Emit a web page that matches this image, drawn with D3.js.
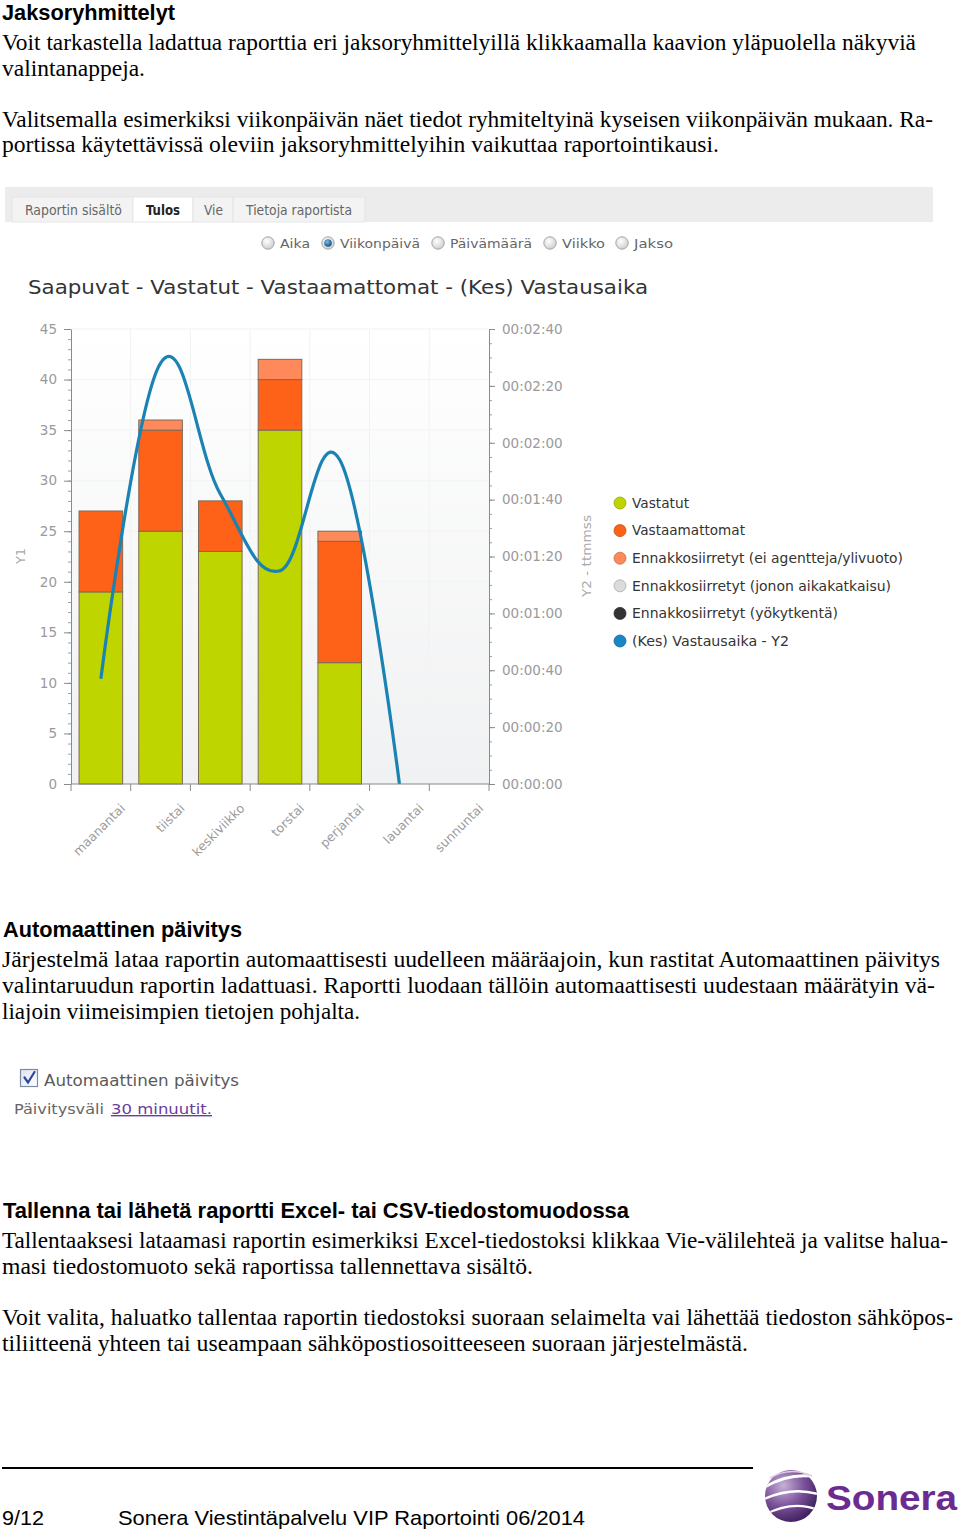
<!DOCTYPE html>
<html>
<head>
<meta charset="utf-8">
<script src="https://cdn.jsdelivr.net/npm/d3@7"></script>
<style>
html,body{margin:0;padding:0;background:#fff;}
svg{display:block;}
</style>
</head>
<body>
<script>
// ---------------- DATA ----------------
const categories = ["maanantai","tiistai","keskiviikko","torstai","perjantai","lauantai","sunnuntai"];
const vastatut = [19, 25, 23, 35, 12, 0, 0];
const vastaamattomat = [8, 10, 5, 5, 12, 0, 0];
const ennakkoEiAgentteja = [0, 1, 0, 2, 1, 0, 0];
const ennakkoAikakatkaisu = [0, 0, 0, 0, 0, 0, 0];
const ennakkoYokytkenta = [0, 0, 0, 0, 0, 0, 0];
const vastausaikaSek = [37, 148, 102, 75, 114, 0, null];
const y1TickValues = [0, 5, 10, 15, 20, 25, 30, 35, 40, 45];
const y2TickValues = [0, 20, 40, 60, 80, 100, 120, 140, 160];
const y2TickLabels = ["00:00:00","00:00:20","00:00:40","00:01:00","00:01:20","00:01:40","00:02:00","00:02:20","00:02:40"];
const seriesNames = ["Vastatut","Vastaamattomat","Ennakkosiirretyt (ei agentteja/ylivuoto)","Ennakkosiirretyt (jonon aikakatkaisu)","Ennakkosiirretyt (yökytkentä)","(Kes) Vastausaika - Y2"];
const seriesColors = ["#bfd500","#fe6118","#fe8a5c","#dcdcdc","#333333","#1a86c4"];
const tabLabels = ["Raportin sisältö","Tulos","Vie","Tietoja raportista"];
const radioLabels = ["Aika","Viikonpäivä","Päivämäärä","Viikko","Jakso"];
const chartTitle = "Saapuvat - Vastatut - Vastaamattomat - (Kes) Vastausaika";

// ---------------- PAGE TEXT ----------------
const pageText = [
  {h:true,  s:"Jaksoryhmittelyt", x:2, y:20, w:173},
  {s:"Voit tarkastella ladattua raporttia eri jaksoryhmittelyillä klikkaamalla kaavion yläpuolella näkyviä", x:2, y:50, w:914},
  {s:"valintanappeja.", x:2, y:76, w:143},
  {s:"Valitsemalla esimerkiksi viikonpäivän näet tiedot ryhmiteltyinä kyseisen viikonpäivän mukaan.  Ra-", x:2, y:127, w:931},
  {s:"portissa käytettävissä oleviin jaksoryhmittelyihin vaikuttaa raportointikausi.", x:2, y:152, w:717},
  {h:true,  s:"Automaattinen päivitys", x:3, y:937, w:239},
  {s:"Järjestelmä lataa raportin automaattisesti uudelleen määräajoin, kun rastitat Automaattinen päivitys", x:2, y:967, w:938},
  {s:"valintaruudun raportin ladattuasi. Raportti luodaan tällöin automaattisesti uudestaan määrätyin vä-", x:2, y:993, w:933},
  {s:"liajoin viimeisimpien tietojen pohjalta.", x:2, y:1019, w:358},
  {h:true,  s:"Tallenna tai lähetä raportti Excel- tai CSV-tiedostomuodossa", x:3, y:1218, w:626},
  {s:"Tallentaaksesi lataamasi raportin esimerkiksi Excel-tiedostoksi klikkaa Vie-välilehteä ja valitse halua-", x:2, y:1248, w:946},
  {s:"masi tiedostomuoto sekä raportissa tallennettava sisältö.", x:2, y:1274, w:531},
  {s:"Voit valita, haluatko tallentaa raportin tiedostoksi suoraan selaimelta vai lähettää tiedoston sähköpos-", x:2, y:1325, w:951},
  {s:"tiliitteenä yhteen tai useampaan sähköpostiosoitteeseen suoraan järjestelmästä.", x:2, y:1351, w:746}
];

const W = 960, H = 1533;
const svg = d3.select("body").append("svg").attr("width", W).attr("height", H)
  .attr("viewBox", `0 0 ${W} ${H}`);
svg.append("rect").attr("width", W).attr("height", H).attr("fill", "#fff");

function addText(parent, s, x, y, o = {}) {
  const t = parent.append("text").attr("x", x).attr("y", y).text(s)
    .attr("font-family", o.ff || "Liberation Serif")
    .attr("font-size", o.fs || 22)
    .attr("fill", o.fill || "#000");
  if (o.fw) t.attr("font-weight", o.fw);
  if (o.anchor) t.attr("text-anchor", o.anchor);
  if (o.w) t.attr("textLength", o.w).attr("lengthAdjust", "spacingAndGlyphs");
  if (o.deco) t.attr("text-decoration", o.deco);
  return t;
}

// ---------------- BODY TEXT ----------------
pageText.forEach(d => {
  if (d.h) addText(svg, d.s, d.x, d.y, {ff:"Liberation Sans", fs:21.5, fw:"bold", w:d.w});
  else addText(svg, d.s, d.x, d.y, {ff:"Liberation Serif", fs:22.5, w:d.w});
});

// ---------------- DEFS ----------------
const defs = svg.append("defs");
const pg = defs.append("linearGradient").attr("id","plotbg").attr("x1",0).attr("y1",0).attr("x2",0).attr("y2",1);
pg.append("stop").attr("offset","0%").attr("stop-color","#ffffff");
pg.append("stop").attr("offset","100%").attr("stop-color","#f0f1f2");
const rg = defs.append("radialGradient").attr("id","radio").attr("cx","40%").attr("cy","35%").attr("r","65%");
rg.append("stop").attr("offset","0%").attr("stop-color","#ffffff");
rg.append("stop").attr("offset","100%").attr("stop-color","#cfcfcf");
const rs = defs.append("radialGradient").attr("id","radioSel").attr("cx","40%").attr("cy","35%").attr("r","65%");
rs.append("stop").attr("offset","0%").attr("stop-color","#7fc0ea");
rs.append("stop").attr("offset","100%").attr("stop-color","#0d4f86");
const cb = defs.append("linearGradient").attr("id","cbox").attr("x1",0).attr("y1",0).attr("x2",1).attr("y2",1);
cb.append("stop").attr("offset","0%").attr("stop-color","#dfe3ec");
cb.append("stop").attr("offset","100%").attr("stop-color","#ffffff");
const lg = defs.append("radialGradient").attr("id","logo").attr("cx","35%").attr("cy","30%").attr("r","75%");
lg.append("stop").attr("offset","0%").attr("stop-color","#c6b1d6");
lg.append("stop").attr("offset","55%").attr("stop-color","#7a4f99");
lg.append("stop").attr("offset","100%").attr("stop-color","#3d1f5a");
defs.append("clipPath").attr("id","logoclip").append("circle").attr("cx",791).attr("cy",1496).attr("r",26);

// ---------------- TAB BAR ----------------
const ui = svg.append("g").attr("font-family","DejaVu Sans Condensed, DejaVu Sans");
ui.append("rect").attr("x",5).attr("y",187).attr("width",928).attr("height",35).attr("fill","#ececec");
const tabLayout = [{x0:12,x1:133,tx:25,tw:97},{x0:133,x1:193,tx:146,tw:34},{x0:193,x1:233,tx:204,tw:19},{x0:233,x1:365,tx:246,tw:106}];
tabLabels.forEach((lab, i) => {
  const t = tabLayout[i];
  ui.append("rect").attr("x",t.x0).attr("y",197).attr("width",t.x1-t.x0).attr("height",25)
    .attr("fill", i === 1 ? "#ffffff" : "#f3f3f3").attr("stroke","#e2e2e2").attr("stroke-width",0.8);
  addText(ui, lab, t.tx, 215, {ff:"DejaVu Sans Condensed, DejaVu Sans", fs:13.5, fill: i===1 ? "#222" : "#666", fw: i===1 ? "bold" : null, w:t.tw});
});

// radio buttons
const radioLayout = [{cx:268,tx:280,tw:30},{cx:328,tx:340,tw:80},{cx:438,tx:450,tw:82},{cx:550,tx:562,tw:43},{cx:622,tx:634,tw:39}];
radioLabels.forEach((lab, i) => {
  const r = radioLayout[i];
  ui.append("circle").attr("cx",r.cx).attr("cy",243).attr("r",6.2).attr("fill","url(#radio)").attr("stroke","#a5a5a5").attr("stroke-width",1);
  if (i === 1) ui.append("circle").attr("cx",r.cx).attr("cy",243).attr("r",3.8).attr("fill","url(#radioSel)");
  addText(ui, lab, r.tx, 248, {ff:"DejaVu Sans", fs:13, fill:"#666", w:r.tw});
});

// ---------------- CHART ----------------
const plot = {left:71, right:489, top:329, bottom:784};
const chart = svg.append("g").attr("font-family","DejaVu Sans");
addText(chart, chartTitle, 28, 294, {ff:"DejaVu Sans", fs:19.5, fill:"#333", w:620});

const x = d3.scaleBand().domain(categories).range([plot.left, plot.right]).paddingInner(0.27).paddingOuter(0.135);
const y1 = d3.scaleLinear().domain([0, 45]).range([plot.bottom, plot.top]);
const y2 = d3.scaleLinear().domain([0, 160]).range([plot.bottom, plot.top]);

chart.append("rect").attr("x",plot.left).attr("y",plot.top).attr("width",plot.right-plot.left)
  .attr("height",plot.bottom-plot.top).attr("fill","url(#plotbg)");

// grid
const edges = categories.map(c => x(c) - (x.step() - x.bandwidth()) / 2).concat([plot.right]);
chart.append("g").selectAll("line").data(edges.slice(1, -1)).join("line")
  .attr("x1", d => d).attr("x2", d => d).attr("y1", plot.top).attr("y2", plot.bottom)
  .attr("stroke","#f2f2f2").attr("stroke-width",1);
chart.append("g").selectAll("line").data(y1TickValues.slice(1)).join("line")
  .attr("x1", plot.left).attr("x2", plot.right).attr("y1", d => y1(d)).attr("y2", d => y1(d))
  .attr("stroke","#f3f3f3").attr("stroke-width",1);

// stacked bars
const stackInput = categories.map((c, i) => ({cat:c, s0:vastatut[i], s1:vastaamattomat[i], s2:ennakkoEiAgentteja[i], s3:ennakkoAikakatkaisu[i], s4:ennakkoYokytkenta[i]}));
const stacked = d3.stack().keys(["s0","s1","s2","s3","s4"])(stackInput);
chart.append("g").selectAll("g").data(stacked).join("g")
  .attr("fill", (d, i) => seriesColors[i])
  .selectAll("rect").data(d => d.filter(p => p[1] > p[0])).join("rect")
  .attr("x", d => x(d.data.cat)).attr("width", x.bandwidth())
  .attr("y", d => y1(d[1])).attr("height", d => y1(d[0]) - y1(d[1]))
  .attr("stroke","#7d6a58").attr("stroke-width",1);

// spline line
const lineData = categories.map((c, i) => ({c, v: vastausaikaSek[i]}));
const line = d3.line().defined(d => d.v != null)
  .x(d => x(d.c) + x.bandwidth() / 2).y(d => y2(d.v))
  .curve(d3.curveCardinal.tension(-0.2));
chart.append("path").datum(lineData).attr("d", line).attr("fill","none")
  .attr("stroke","#1b82b4").attr("stroke-width",3.2).attr("stroke-linejoin","round");

// Y1 axis
const axStyle = g => {
  g.selectAll(".domain").attr("stroke","#8a8a8a");
  g.selectAll(".tick line").attr("stroke","#8a8a8a");
  g.selectAll(".tick text").attr("fill","#9a9a9a").attr("font-family","DejaVu Sans");
};
const gy1m = chart.append("g").attr("transform",`translate(${plot.left},0)`)
  .call(d3.axisLeft(y1).tickValues(d3.range(0, 46, 1)).tickSize(3).tickFormat(""));
gy1m.select(".domain").remove();
gy1m.selectAll(".tick line").attr("stroke","#a0a0a0");
const gy1 = chart.append("g").attr("transform",`translate(${plot.left},0)`)
  .call(d3.axisLeft(y1).tickValues(y1TickValues).tickSize(7).tickPadding(7).tickSizeOuter(0))
  .attr("font-size",13.5);
axStyle(gy1);

// Y2 axis
const gy2m = chart.append("g").attr("transform",`translate(${plot.right},0)`)
  .call(d3.axisRight(y2).tickValues(d3.range(0, 161, 5)).tickSize(3).tickFormat(""));
gy2m.select(".domain").remove();
gy2m.selectAll(".tick line").attr("stroke","#a0a0a0");
const gy2 = chart.append("g").attr("transform",`translate(${plot.right},0)`)
  .call(d3.axisRight(y2).tickValues(y2TickValues).tickFormat((d, i) => y2TickLabels[i]).tickSize(6).tickPadding(7).tickSizeOuter(0))
  .attr("font-size",13.5);
axStyle(gy2);

// X axis
chart.append("line").attr("x1",plot.left).attr("x2",plot.right).attr("y1",plot.bottom).attr("y2",plot.bottom)
  .attr("stroke","#8a8a8a").attr("stroke-width",1.2);
chart.append("g").selectAll("line").data(edges).join("line")
  .attr("x1", d => d).attr("x2", d => d).attr("y1", plot.bottom).attr("y2", plot.bottom + 7)
  .attr("stroke","#8a8a8a");
chart.append("g").selectAll("text").data(categories).join("text")
  .attr("transform", c => `translate(${x(c) + x.bandwidth() / 2 + 25},${plot.bottom + 25}) rotate(-45)`)
  .attr("text-anchor","end").attr("font-size",12.5).attr("fill","#9a9a9a").attr("font-family","DejaVu Sans")
  .text(c => c);

// axis titles
chart.append("text").attr("transform","translate(25,556) rotate(-90)").attr("text-anchor","middle")
  .attr("font-size",13).attr("fill","#aaa").text("Y1");
chart.append("text").attr("transform","translate(591,556) rotate(-90)").attr("text-anchor","middle")
  .attr("font-size",13).attr("fill","#aaa").attr("textLength",82).attr("lengthAdjust","spacingAndGlyphs").text("Y2 - ttmmss");

// legend
const legendWidths = [57, 113, 271, 259, 206, 157];
const legend = chart.append("g").selectAll("g").data(seriesNames).join("g")
  .attr("transform", (d, i) => `translate(620,${503 + i * 27.6})`);
legend.append("circle").attr("r",6).attr("fill", (d, i) => seriesColors[i])
  .attr("stroke", (d, i) => d3.color(seriesColors[i]).darker(0.7)).attr("stroke-width",0.8);
legend.append("text").attr("x",12).attr("y",4.8).attr("font-size",13.5).attr("fill","#333")
  .attr("textLength", (d, i) => legendWidths[i]).attr("lengthAdjust","spacingAndGlyphs").text(d => d);

// ---------------- AUTO-UPDATE WIDGET ----------------
const w2 = svg.append("g");
w2.append("rect").attr("x",20.5).attr("y",1069.5).attr("width",17).attr("height",17)
  .attr("fill","url(#cbox)").attr("stroke","#7d8aa3").attr("stroke-width",1.2);
w2.append("path").attr("d","M24.5,1077.5 L28,1082.5 L34.5,1072").attr("fill","none")
  .attr("stroke","#2f47a0").attr("stroke-width",2.2).attr("stroke-linecap","round");
addText(w2, "Automaattinen päivitys", 44, 1086, {ff:"DejaVu Sans", fs:16.5, fill:"#5a5a5a", w:195});
addText(w2, "Päivitysväli", 14, 1114, {ff:"DejaVu Sans", fs:14, fill:"#666", w:90});
addText(w2, "30 minuutit.", 111, 1114, {ff:"DejaVu Sans", fs:14, fill:"#6a3d9a", w:101, deco:"underline"});

// ---------------- FOOTER ----------------
svg.append("line").attr("x1",2).attr("x2",753).attr("y1",1468).attr("y2",1468).attr("stroke","#000").attr("stroke-width",2);
addText(svg, "9/12", 2, 1525, {ff:"Liberation Sans", fs:21, w:42});
addText(svg, "Sonera Viestintäpalvelu VIP Raportointi 06/2014", 118, 1525, {ff:"Liberation Sans", fs:21, w:467});

// logo
const logo = svg.append("g");
logo.append("circle").attr("cx",791).attr("cy",1496).attr("r",26).attr("fill","url(#logo)");
const sw = logo.append("g").attr("clip-path","url(#logoclip)").attr("fill","none").attr("stroke","#ffffff").attr("stroke-linecap","round");
sw.append("path").attr("d","M760,1490 Q790,1470 822,1478").attr("stroke-width",3);
sw.append("path").attr("d","M758,1502 Q792,1484 824,1496").attr("stroke-width",2.5);
sw.append("path").attr("d","M762,1516 Q795,1498 822,1512").attr("stroke-width",2);
logo.append("path").attr("d","M770,1478 Q790,1466 812,1476").attr("fill","none").attr("stroke","#d9cde4").attr("stroke-width",1.5);
addText(logo, "Sonera", 826, 1510, {ff:"Liberation Sans", fs:35, fw:"bold", fill:"#6b2c91", w:131});
</script>
</body>
</html>
